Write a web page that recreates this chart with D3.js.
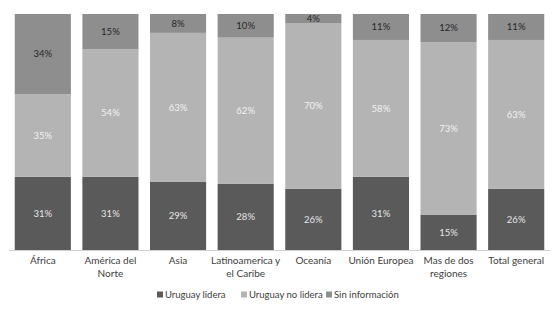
<!DOCTYPE html>
<html>
<head>
<meta charset="utf-8">
<script src="https://cdn.jsdelivr.net/npm/d3@7"></script>
<style>
  body { margin: 0; background: #fff; }
  svg text { font-family: Lato, "Open Sans", sans-serif; }
</style>
</head>
<body>
<div id="chart"></div>
<script>
const categories = ["África", "América del Norte", "Asia", "Latinoamerica y el Caribe", "Oceanía", "Unión Europea", "Mas de dos regiones", "Total general"];
const lidera = [31, 31, 29, 28, 26, 31, 15, 26];
const noLidera = [35, 54, 63, 62, 70, 58, 73, 63];
const sinInfo = [34, 15, 8, 10, 4, 11, 12, 11];
const seriesNames = ["Uruguay lidera", "Uruguay no lidera", "Sin información"];
// wrapped category labels, as in the source
const catLines = [["África"], ["América del", "Norte"], ["Asia"], ["Latinoamerica y", "el Caribe"], ["Oceanía"], ["Unión Europea"], ["Mas de dos", "regiones"], ["Total general"]];

const width = 558, height = 314;
const colors = ["#5a5a5a", "#b4b4b4", "#8e8e8e"];
const labelColors = ["#e6e6e6", "#f2f2f2", "#262626"];

const rows = categories.map((c, i) => ({ cat: c, s0: lidera[i], s1: noLidera[i], s2: sinInfo[i] }));
const stack = d3.stack().keys(["s0", "s1", "s2"])(rows);

const x = d3.scaleBand().domain(categories).range([9, 550]).paddingInner(0.17).paddingOuter(0.085);
const y = d3.scaleLinear().domain([0, 100]).range([250, 14]);

const svg = d3.select("#chart").append("svg")
    .attr("width", width)
    .attr("height", height);

const layers = svg.append("g")
    .selectAll("g")
    .data(stack)
    .join("g")
    .attr("fill", (d, i) => colors[i]);

layers.selectAll("rect")
    .data(d => d)
    .join("rect")
    .attr("x", d => x(d.data.cat))
    .attr("y", d => y(d[1]))
    .attr("width", x.bandwidth())
    .attr("height", d => y(d[0]) - y(d[1]));

layers.each(function (layer, li) {
    d3.select(this).selectAll("text")
        .data(layer)
        .join("text")
        .attr("x", d => x(d.data.cat) + x.bandwidth() / 2)
        .attr("y", d => (y(d[0]) + y(d[1])) / 2)
        .attr("dy", "0.35em")
        .attr("text-anchor", "middle")
        .attr("font-size", 9.5)
        .attr("fill", labelColors[li])
        .text(d => (d[1] - d[0]) + "%");
});

// axis line
svg.append("line")
    .attr("x1", 9).attr("x2", 550)
    .attr("y1", 250.5).attr("y2", 250.5)
    .attr("stroke", "#d0d0d0");

const catG = svg.append("g").selectAll("text")
    .data(categories)
    .join("text")
    .attr("x", d => x(d) + x.bandwidth() / 2)
    .attr("y", 264)
    .attr("text-anchor", "middle")
    .attr("font-size", 10)
    .attr("fill", "#404040");

catG.selectAll("tspan")
    .data((d, i) => catLines[i])
    .join("tspan")
    .attr("x", function () { return this.parentNode.getAttribute("x"); })
    .attr("dy", (d, i) => i === 0 ? 0 : 13)
    .text(d => d);

// legend
const legendX = [157, 241, 326];
const legend = svg.append("g").selectAll("g")
    .data(seriesNames)
    .join("g")
    .attr("transform", (d, i) => `translate(${legendX[i]},295)`);

legend.append("rect")
    .attr("x", 0).attr("y", -3.5)
    .attr("width", 6).attr("height", 6)
    .attr("fill", (d, i) => colors[i]);

legend.append("text")
    .attr("x", 8)
    .attr("dy", "0.35em")
    .attr("font-size", 9.5)
    .attr("fill", "#404040")
    .text(d => d);
</script>
</body>
</html>
